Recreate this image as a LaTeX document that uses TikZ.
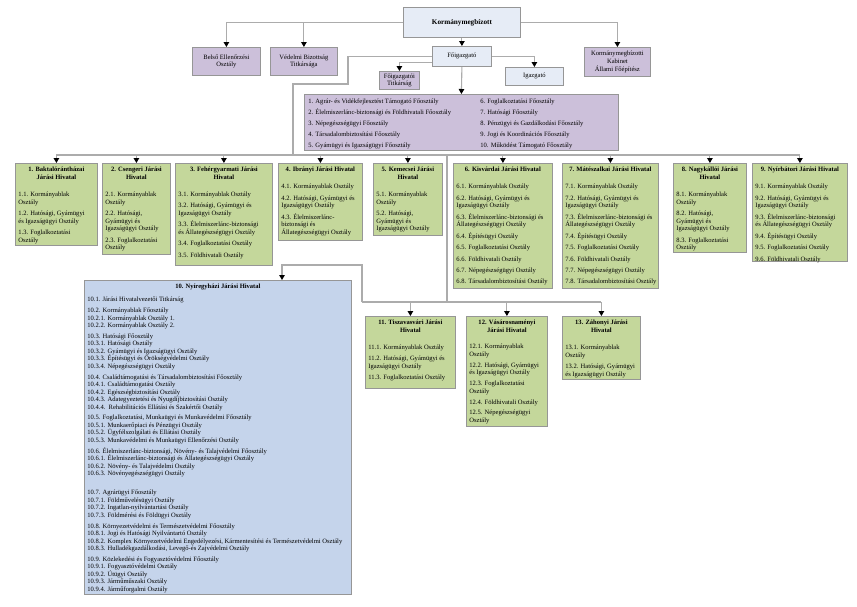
\documentclass[tikz,border=0pt]{standalone}
\usepackage{fontspec}
\setmainfont{Liberation Serif}
\usetikzlibrary{arrows.meta}
\definecolor{gfill}{RGB}{196,215,155}
\definecolor{pfill}{RGB}{204,192,218}
\definecolor{bfill}{RGB}{197,212,235}
\definecolor{lfill}{RGB}{230,236,246}
\definecolor{bord}{RGB}{150,150,150}
\definecolor{connc}{RGB}{172,172,172}
\newcommand\boxfont{\fontsize{6.55}{7.6}\selectfont\raggedright\setlength\leftskip{1pt}\setlength\parskip{3.8pt}}
\newcommand\ttl[1]{{\centering\bfseries #1\par}\vspace{5.6pt}}
% name, style, x, y, w, h, content
\newcommand\ob[7]{\node[#2,anchor=north west,inner sep=0pt,minimum width=#5pt,minimum height=#6pt] (#1) at (#3,#4) {\parbox[c][\dimexpr#6pt-8pt\relax][t]{\dimexpr#5pt-4pt\relax}{\boxfont #7}};}
% name, style, x, y, w, h, text (centred)
\newcommand\cb[7]{\node[#2,anchor=north west,inner sep=1pt,minimum width=#5pt,minimum height=#6pt,align=center,font=\fontsize{6.55}{7.8}\selectfont] (#1) at (#3,#4) {#7};}
\begin{document}
\begin{tikzpicture}[x=1pt,y=-1pt,
 gbox/.style={draw=bord,fill=gfill,line width=0.8pt},
 pbox/.style={draw=bord,fill=pfill,line width=0.8pt},
 bbox/.style={draw=bord,fill=bfill,line width=0.8pt},
 lbox/.style={draw=bord,fill=lfill,line width=0.8pt},
 conn/.style={draw=connc,line width=1.1pt},
 arr/.style={conn,-{Triangle[width=5.5pt,length=5pt,color=black,fill=black]}}]
\fill[white] (0,0) rectangle (857,606);
\useasboundingbox (0,0) rectangle (857,606);

% top level
\cb{km}{lbox}{403}{7}{117}{30}{\fontsize{7.2}{8}\selectfont\bfseries Kormánymegbízott}
\cb{belso}{pbox}{192}{47}{68}{28}{Belső Ellenőrzési\\Osztály}
\cb{ved}{pbox}{270}{47}{67}{28}{Védelmi Bizottság\\Titkársága}
\cb{kab}{pbox}{584}{47}{66}{29}{Kormánymegbízotti\\Kabinet\\Állami Főépítész}
\cb{fo}{lbox}{432}{46}{59}{20}{Főigazgató}
\cb{ig}{lbox}{505}{67}{58}{18}{Igazgató}
\cb{fot}{pbox}{379}{71}{40}{18}{Főigazgatói\\Titkárság}

\node[pbox,anchor=north west,inner sep=0pt,minimum width=314pt,minimum height=56pt] (pb) at (304,94)
 {\parbox[c][48pt][t]{306pt}{\fontsize{6.55}{11}\selectfont
  \parbox[t]{172pt}{1. Agrár- és Vidékfejlesztést Támogató Főosztály\\
  2. Élelmiszerlánc-biztonsági és Földhivatali Főosztály\\
  3. Népegészségügyi Főosztály\\
  4. Társadalombiztosítási Főosztály\\
  5. Gyámügyi és Igazságügyi Főosztály}%
  \parbox[t]{134pt}{6. Foglalkoztatási Főosztály\\
  7. Hatósági Főosztály\\
  8. Pénzügyi és Gazdálkodási Főosztály\\
  9. Jogi és Koordinációs Főosztály\\
  10. Működést Támogató Főosztály}}};

% district offices, first row
\ob{b1}{gbox}{15}{163}{82}{82}{\ttl{1. Baktalórántházai\\Járási Hivatal}
1.1. Kormányablak\\Osztály\par
1.2. Hatósági, Gyámügyi\\és Igazságügyi Osztály\par
1.3. Foglalkoztatási\\Osztály}
\ob{b2}{gbox}{102}{163}{68}{91}{\ttl{2. Csengeri Járási\\Hivatal}
2.1. Kormányablak\\Osztály\par
2.2. Hatósági,\\Gyámügyi és\\Igazságügyi Osztály\par
2.3. Foglalkoztatási\\Osztály}
\ob{b3}{gbox}{175}{163}{97}{102}{\ttl{3. Fehérgyarmati Járási\\Hivatal}
3.1. Kormányablak Osztály\par
3.2. Hatósági, Gyámügyi és\\Igazságügyi Osztály\par
3.3. Élelmiszerlánc-biztonsági\\és Állategészségügyi Osztály\par
3.4. Foglalkoztatási Osztály\par
3.5. Földhivatali Osztály}
\ob{b4}{gbox}{278}{163}{84}{77}{\ttl{4. Ibrányi Járási Hivatal}
4.1. Kormányablak Osztály\par
4.2. Hatósági, Gyámügyi és\\Igazságügyi Osztály\par
4.3. Élelmiszerlánc-\\biztonsági és\\Állategészségügyi Osztály}
\ob{b5}{gbox}{373}{163}{69}{72}{\ttl{5. Kemecsei Járási\\Hivatal}
5.1. Kormányablak\\Osztály\par
5.2. Hatósági,\\Gyámügyi és\\Igazságügyi Osztály}
\ob{b6}{gbox}{453}{163}{99}{125}{\ttl{6. Kisvárdai Járási Hivatal}
6.1. Kormányablak Osztály\par
6.2. Hatósági, Gyámügyi és\\Igazságügyi Osztály\par
6.3. Élelmiszerlánc-biztonsági és\\Állategészségügyi Osztály\par
6.4. Építésügyi Osztály\par
6.5. Foglalkoztatási Osztály\par
6.6. Földhivatali Osztály\par
6.7. Népegészségügyi Osztály\par
6.8. Társadalombiztosítási Osztály}
\ob{b7}{gbox}{562}{163}{96}{125}{\ttl{7. Mátészalkai Járási Hivatal}
7.1. Kormányablak Osztály\par
7.2. Hatósági, Gyámügyi és\\Igazságügyi Osztály\par
7.3. Élelmiszerlánc-biztonsági és\\Állategészségügyi Osztály\par
7.4. Építésügyi Osztály\par
7.5. Foglalkoztatási Osztály\par
7.6. Földhivatali Osztály\par
7.7. Népegészségügyi Osztály\par
7.8. Társadalombiztosítási Osztály}
\ob{b8}{gbox}{673}{163}{73}{89}{\ttl{8. Nagykállói Járási\\Hivatal}
8.1. Kormányablak\\Osztály\par
8.2. Hatósági,\\Gyámügyi és\\Igazságügyi Osztály\par
8.3. Foglalkoztatási\\Osztály}
\ob{b9}{gbox}{752}{163}{95}{98}{\ttl{9. Nyírbátori Járási Hivatal}
9.1. Kormányablak Osztály\par
9.2. Hatósági, Gyámügyi és\\Igazságügyi Osztály\par
9.3. Élelmiszerlánc-biztonsági\\és Állategészségügyi Osztály\par
9.4. Építésügyi Osztály\par
9.5. Foglalkoztatási Osztály\par
9.6. Földhivatali Osztály}

% Nyíregyháza
\ob{b10}{bbox}{84}{280}{267}{314}{\fontsize{6.55}{7.5}\selectfont
{\centering\bfseries 10. Nyíregyházi Járási Hivatal\par}\vspace{1.5pt}
10.1. Járási Hivatalvezetői Titkárság\\[3.3pt]
10.2. Kormányablak Főosztály\\
10.2.1. Kormányablak Osztály 1.\\
10.2.2. Kormányablak Osztály 2.\\[3.3pt]
10.3. Hatósági Főosztály\\
10.3.1. Hatósági Osztály\\
10.3.2. Gyámügyi és Igazságügyi Osztály\\
10.3.3. Építésügyi és Örökségvédelmi Osztály\\
10.3.4. Népegészségügyi Osztály\\[3.3pt]
10.4. Családtámogatási és Társadalombiztosítási Főosztály\\
10.4.1. Családtámogatási Osztály\\
10.4.2. Egészségbiztosítási Osztály\\
10.4.3. Adategyeztetési és Nyugdíjbiztosítási Osztály\\
10.4.4.\ \ Rehabilitációs Ellátási és Szakértői Osztály\\[3.3pt]
10.5. Foglalkoztatási, Munkaügyi és Munkavédelmi Főosztály\\
10.5.1. Munkaerőpiaci és Pénzügyi Osztály\\
10.5.2. Ügyfélszolgálati és Ellátási Osztály\\
10.5.3. Munkavédelmi és Munkaügyi Ellenőrzési Osztály\\[3.3pt]
10.6. Élelmiszerlánc-biztonsági, Növény- és Talajvédelmi Főosztály\\
10.6.1. Élelmiszerlánc-biztonsági és Állategészségügyi Osztály\\
10.6.2. Növény- és Talajvédelmi Osztály\\
10.6.3. Növényegészségügyi Osztály\\[11.5pt]
10.7. Agrárügyi Főosztály\\
10.7.1. Földművelésügyi Osztály\\
10.7.2. Ingatlan-nyilvántartási Osztály\\
10.7.3. Földmérési és Földügyi Osztály\\[3.3pt]
10.8. Környezetvédelmi és Természetvédelmi Főosztály\\
10.8.1. Jogi és Hatósági Nyilvántartó Osztály\\
\mbox{10.8.2. Komplex Környezetvédelmi Engedélyezési, Kármentesítési és Természetvédelmi Osztály}\\
10.8.3. Hulladékgazdálkodási, Levegő-és Zajvédelmi Osztály\\[3.3pt]
10.9. Közlekedési és Fogyasztóvédelmi Főosztály\\
10.9.1. Fogyasztóvédelmi Osztály\\
10.9.2. Útügyi Osztály\\
10.9.3. Járműműszaki Osztály\\
10.9.4. Járműforgalmi Osztály}

% second row
\ob{b11}{gbox}{365}{316}{90}{72}{\ttl{11. Tiszavasvári Járási\\Hivatal}
11.1. Kormányablak Osztály\par
11.2. Hatósági, Gyámügyi és\\Igazságügyi Osztály\par
11.3. Foglalkoztatási Osztály}
\ob{b12}{gbox}{466}{316}{81}{110}{\setlength\parskip{3.2pt}\ttl{12. Vásárosnaményi\\Járási Hivatal}
12.1. Kormányablak\\Osztály\par
12.2. Hatósági, Gyámügyi\\és Igazságügyi Osztály\par
12.3. Foglalkoztatási\\Osztály\par
12.4. Földhivatali Osztály\par
12.5. Népegészségügyi\\Osztály}
\ob{b13}{gbox}{562}{316}{78}{63}{\ttl{13. Záhonyi Járási\\Hivatal}
13.1. Kormányablak\\Osztály\par
13.2. Hatósági, Gyámügyi\\és Igazságügyi Osztály}

% helper coordinates
\coordinate (bus) at (0,155);
\coordinate (k1) at (348,84);
\coordinate (k2) at (293,155);
\coordinate (d1) at (447,155);
\coordinate (d2) at (447,302);
\coordinate (e1) at (362,302);
\coordinate (e2) at (362,265);
\coordinate (t10) at (282,265);

% connectors
\draw[arr] (km.west) -| (belso.north);
\draw[arr] (km.west) -| (ved.north);
\draw[arr] (km.east) -| (kab.north);
\draw[arr] (km.south) -- (fo.north);
\draw[arr] (fo.east) -| (ig.north);
\draw[arr] ([yshift=-6pt]fo.west) -| (fot.north);
\draw[arr] (fo.south) -- (pb.north);
\draw[conn] (fo.west) -| (k1) -| (k2);
\draw[conn] (b1.north |- bus) -- (b9.north |- bus);
\foreach \b in {b1,b2,b3,b4,b5,b6,b7,b8,b9}{\draw[arr] (\b.north |- bus) -- (\b.north);}
\draw[conn] (d1) -- (d2);
\draw[conn] (e1) -- (b13.north |- d2);
\draw[arr] (e1) -- (e2) -- (t10) -- (t10 |- b10.north);
\foreach \b in {b11,b12,b13}{\draw[arr] (\b.north |- d2) -- (\b.north);}
\end{tikzpicture}
\end{document}
